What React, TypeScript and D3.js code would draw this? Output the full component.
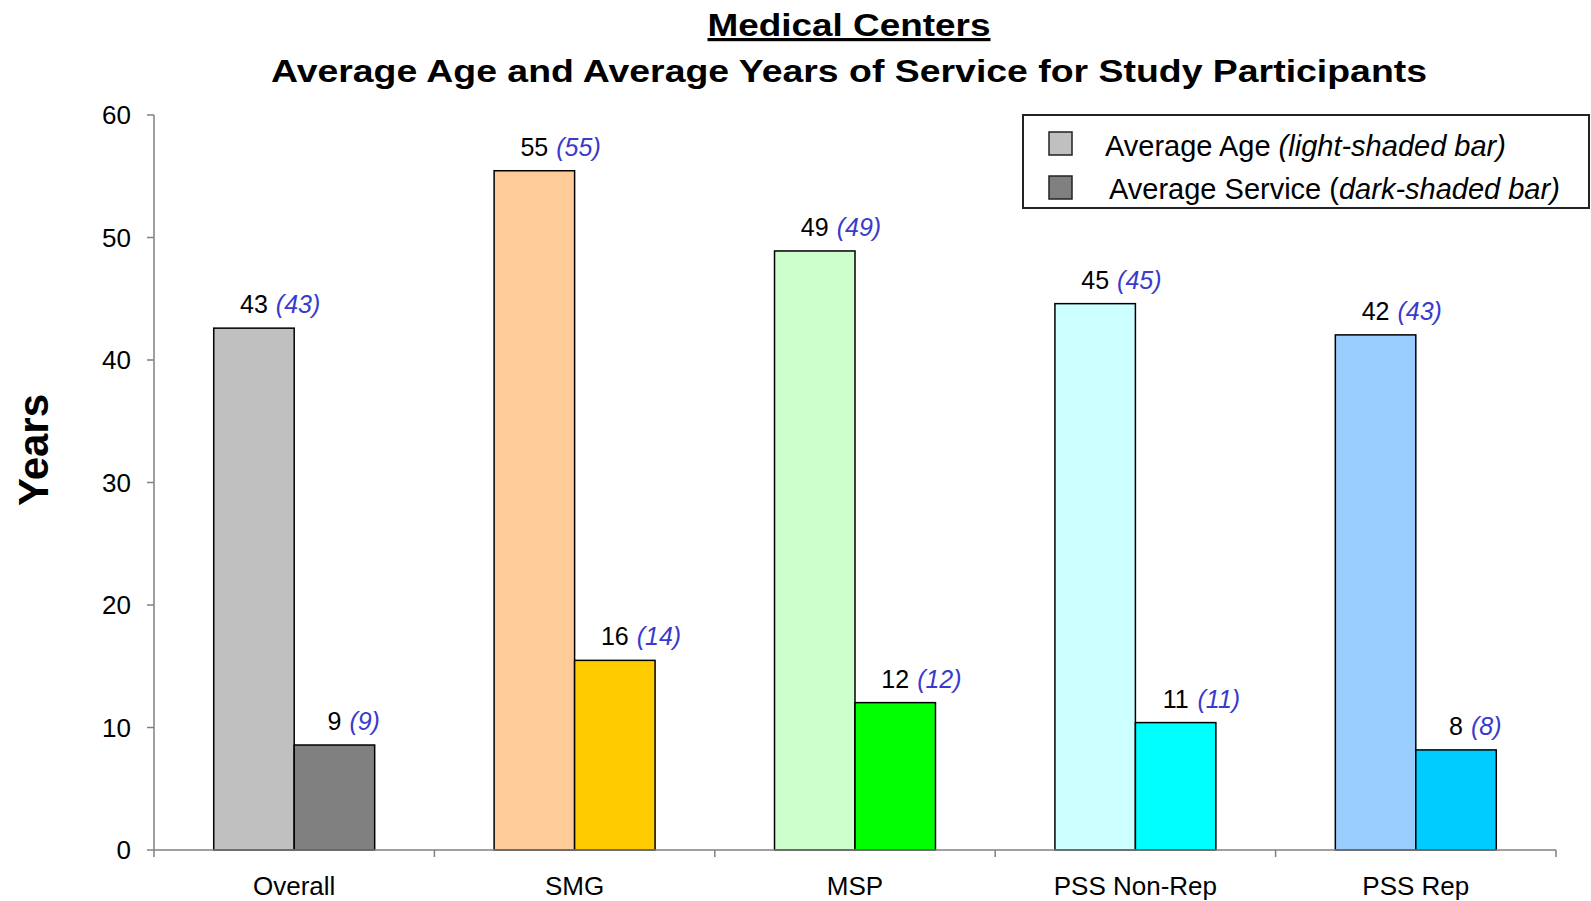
import React from "react";
import * as d3 from "d3";

const categories = ["Overall", "SMG", "MSP", "PSS Non-Rep", "PSS Rep"];
const avgAge = [42.6, 55.45, 48.9, 44.6, 42.05];
const avgService = [8.57, 15.48, 12.03, 10.4, 8.17];
const ageLabels = ["43", "55", "49", "45", "42"];
const ageAltLabels = ["(43)", "(55)", "(49)", "(45)", "(43)"];
const serviceLabels = ["9", "16", "12", "11", "8"];
const serviceAltLabels = ["(9)", "(14)", "(12)", "(11)", "(8)"];
const lightColors = ["#c0c0c0", "#ffcc99", "#ccffcc", "#ccffff", "#99ccff"];
const darkColors = ["#808080", "#ffcc00", "#00ff00", "#00ffff", "#00ccff"];
const yTicks = [0, 10, 20, 30, 40, 50, 60];
const seriesKeys = ["age", "service"];

const W = 1591;
const H = 901;
const FONT = "'Liberation Sans', Arial, Helvetica, sans-serif";
const BLUE = "#3a3acc";

export default function App() {
  const y = d3.scaleLinear().domain([0, 60]).range([850, 115]);
  const x = d3.scaleBand<string>().domain(categories).range([154, 1556]).padding(0);
  const groupW = x.bandwidth() * 0.574;
  const xs = d3.scaleBand<string>().domain(seriesKeys).range([0, groupW]).padding(0);
  const bw = xs.bandwidth();
  const labelFs = 25;
  const digitW = 0.556 * labelFs;

  const bars: any[] = [];
  categories.forEach((c, i) => {
    const g0 = (x(c) as number) + x.bandwidth() / 2 - groupW / 2;
    [
      { key: "age", v: avgAge[i], fill: lightColors[i], lab: ageLabels[i], alt: ageAltLabels[i] },
      { key: "service", v: avgService[i], fill: darkColors[i], lab: serviceLabels[i], alt: serviceAltLabels[i] },
    ].forEach((s) => {
      const bx = g0 + (xs(s.key) as number);
      bars.push({ ...s, bx, top: y(s.v), cat: c });
    });
  });

  const boundaries = [...categories.map((c) => x(c) as number), 1556];

  return (
    <div style={{ position: "absolute", left: 0, top: 0 }}>
      <svg width={W} height={H} style={{ display: "block", background: "#fff" }} fontFamily={FONT}>
        <rect x={0} y={0} width={W} height={H} fill="#ffffff" />
        {/* Title */}
        <text x={849} y={36} textAnchor="middle" fontWeight="bold" fontSize={32} textLength={283} lengthAdjust="spacingAndGlyphs" textDecoration="underline" fill="#000">
          Medical Centers
        </text>
        <text x={849} y={82} textAnchor="middle" fontWeight="bold" fontSize={32} textLength={1156} lengthAdjust="spacingAndGlyphs" fill="#000">
          Average Age and Average Years of Service for Study Participants
        </text>

        {/* Y axis label */}
        <text transform="translate(48,450) rotate(-90)" textAnchor="middle" fontWeight="bold" fontSize={42} fill="#000">
          Years
        </text>

        {/* Y axis */}
        <line x1={154} x2={154} y1={y(60)} y2={y(0)} stroke="#808080" strokeWidth={1.5} />
        {yTicks.map((t) => (
          <g key={t}>
            <line x1={147} x2={154} y1={y(t)} y2={y(t)} stroke="#808080" strokeWidth={1.5} />
            <text x={131} y={y(t)} dy="0.36em" textAnchor="end" fontSize={26} fill="#000">
              {t}
            </text>
          </g>
        ))}

        {/* Bars */}
        {bars.map((b, k) => (
          <rect key={k} x={b.bx} y={b.top} width={bw} height={y(0) - b.top} fill={b.fill} stroke="#000" strokeWidth={1.5} />
        ))}

        {/* X axis */}
        <line x1={154} x2={1556} y1={y(0)} y2={y(0)} stroke="#808080" strokeWidth={1.5} />
        {boundaries.map((bx, k) => (
          <line key={k} x1={bx} x2={bx} y1={y(0)} y2={y(0) + 7} stroke="#808080" strokeWidth={1.5} />
        ))}
        {categories.map((c) => (
          <text key={c} x={(x(c) as number) + x.bandwidth() / 2} y={895} textAnchor="middle" fontSize={26} fill="#000">
            {c}
          </text>
        ))}

        {/* Value labels */}
        {bars.map((b, k) => {
          const cx = b.bx + bw / 2;
          const nw = b.lab.length * digitW;
          return (
            <g key={"l" + k}>
              <text x={cx} y={b.top - 15} textAnchor="middle" fontSize={labelFs} fill="#000">
                {b.lab}
              </text>
              <text x={cx + nw / 2 + 8} y={b.top - 15} textAnchor="start" fontSize={labelFs} fontStyle="italic" fill={BLUE}>
                {b.alt}
              </text>
            </g>
          );
        })}

        {/* Legend */}
        <rect x={1023} y={115} width={566} height={93} fill="#fff" stroke="#222" strokeWidth={2} />
        <rect x={1049} y={132} width={23} height={23} fill={lightColors[0]} stroke="#222" strokeWidth={1.5} />
        <rect x={1049} y={176} width={23} height={23} fill={darkColors[0]} stroke="#222" strokeWidth={1.5} />
        <text x={1105} y={156} fontSize={29} fill="#000">
          Average Age <tspan fontStyle="italic">(light-shaded bar)</tspan>
        </text>
        <text x={1109} y={199} fontSize={29} fill="#000">
          Average Service (<tspan fontStyle="italic">dark-shaded bar)</tspan>
        </text>
      </svg>
    </div>
  );
}
